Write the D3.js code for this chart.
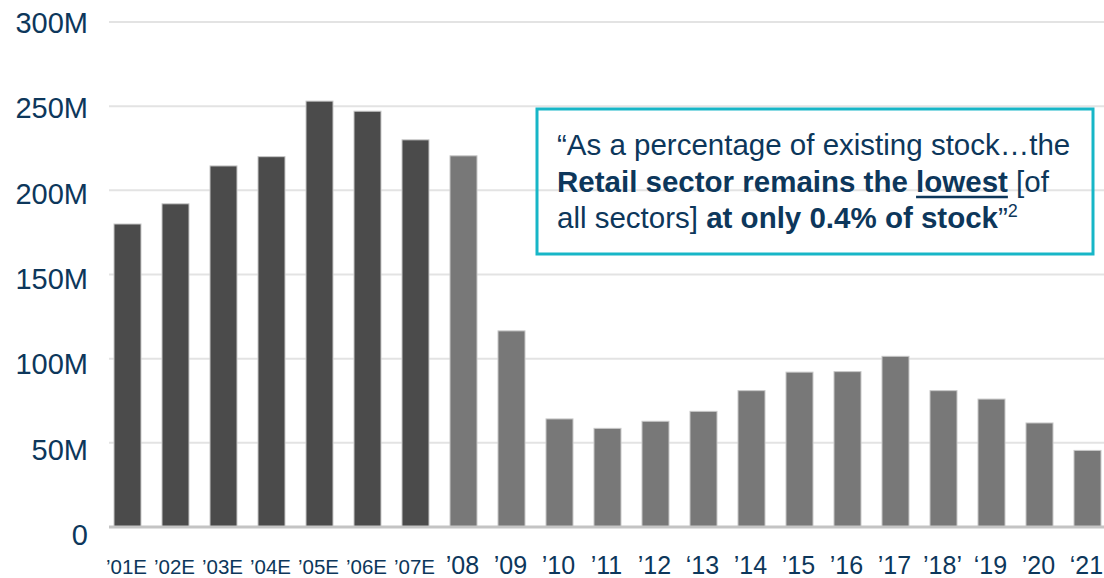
<!DOCTYPE html>
<html>
<head>
<meta charset="utf-8">
<script src="https://cdn.jsdelivr.net/npm/d3@7/dist/d3.min.js"></script>
<style>
  html, body { margin: 0; padding: 0; background: #fff; }
  svg { display: block; font-family: "Liberation Sans", Arial, sans-serif; }
</style>
</head>
<body>
<svg id="chart" width="1104" height="578"></svg>
<script>
// ---- data ----
const categories = ["’01E","’02E","’03E","’04E","’05E","’06E","’07E","’08","’09","’10","’11","’12","‘13","’14","’15","’16","’17","’18’","‘19","’20","‘21"];
const values = [180, 192, 214.5, 220, 253, 247, 230, 220.5, 116.5, 64.2, 58.6, 62.8, 68.7, 81, 92, 92.3, 101.4, 81, 76, 61.8, 45.5]; // millions
const estimated = [true, true, true, true, true, true, true, false, false, false, false, false, false, false, false, false, false, false, false, false, false];
const darkBars = [true, true, true, true, true, true, true, false, false, false, false, false, false, false, false, false, false, false, false, false, false];
const yTicks = [0, 50, 100, 150, 200, 250, 300];
const yTickLabels = ["0", "50M", "100M", "150M", "200M", "250M", "300M"];

const navy = "#0d375b";
const svg = d3.select("#chart");

const x = d3.scaleBand().domain(categories).range([103.5, 1111.5]).paddingInner(0.4375).paddingOuter(0.21875);
const y = d3.scaleLinear().domain([0, 300]).range([527, 22]);
const yLab = d3.scaleLinear().domain([0, 300]).range([535, 23]);

// gridlines
svg.append("g").selectAll("line").data(yTicks.filter(d => d > 0)).join("line")
  .attr("x1", 109).attr("x2", 1104)
  .attr("y1", d => y(d)).attr("y2", d => y(d))
  .attr("stroke", "#e3e3e3").attr("stroke-width", 2);

// y labels
svg.append("g").selectAll("text").data(yTicks).join("text")
  .attr("x", 88).attr("y", d => yLab(d))
  .attr("dy", "0.35em")
  .attr("text-anchor", "end")
  .attr("font-size", 29)
  .attr("fill", navy)
  .text((d, i) => yTickLabels[i]);

// bars
svg.append("g").selectAll("rect").data(values).join("rect")
  .attr("x", (d, i) => x(categories[i]))
  .attr("width", x.bandwidth())
  .attr("y", d => y(d))
  .attr("height", d => y(0) - y(d))
  .attr("fill", (d, i) => darkBars[i] ? "#4b4b4b" : "#787878")
  .attr("stroke", "#c8c8c8").attr("stroke-width", 1);

// baseline
svg.append("line").attr("x1", 109).attr("x2", 1104)
  .attr("y1", y(0)).attr("y2", y(0))
  .attr("stroke", "#c4c4c4").attr("stroke-width", 3);

// x labels
svg.append("g").selectAll("text").data(categories).join("text")
  .attr("x", d => x(d) + x.bandwidth() / 2 - 1)
  .attr("y", 574)
  .attr("text-anchor", "middle")
  .attr("font-size", (d, i) => estimated[i] ? 20.5 : 25)
  .attr("fill", navy)
  .text(d => d);

// annotation box
svg.append("rect").attr("x", 537).attr("y", 109).attr("width", 556).attr("height", 145)
  .attr("fill", "none").attr("stroke", "#17b6c7").attr("stroke-width", 3);

const note = svg.append("g").attr("font-size", 29.5).attr("fill", navy);
const l1 = note.append("text").attr("x", 557).attr("y", 155);
l1.append("tspan").text("“As a percentage of existing stock…the");

const l2 = note.append("text").attr("x", 557).attr("y", 192);
l2.append("tspan").attr("font-weight", "bold").text("Retail sector remains the ");
const low = l2.append("tspan").attr("font-weight", "bold").text("lowest");
l2.append("tspan").text(" [of");

const l3 = note.append("text").attr("x", 557).attr("y", 228);
l3.append("tspan").text("all sectors] ");
l3.append("tspan").attr("font-weight", "bold").text("at only 0.4% of stock");
l3.append("tspan").text("”");
l3.append("tspan").attr("font-size", 18).attr("dy", -11).text("2");

// underline for "lowest"
const l2node = l2.node();
const prefixLen = "Retail sector remains the ".length;
const start = l2node.getStartPositionOfChar(prefixLen).x;
const end = l2node.getEndPositionOfChar(prefixLen + "lowest".length - 1).x;
note.append("line").attr("x1", start).attr("x2", end)
  .attr("y1", 197).attr("y2", 197)
  .attr("stroke", navy).attr("stroke-width", 2.5);
</script>
</body>
</html>
